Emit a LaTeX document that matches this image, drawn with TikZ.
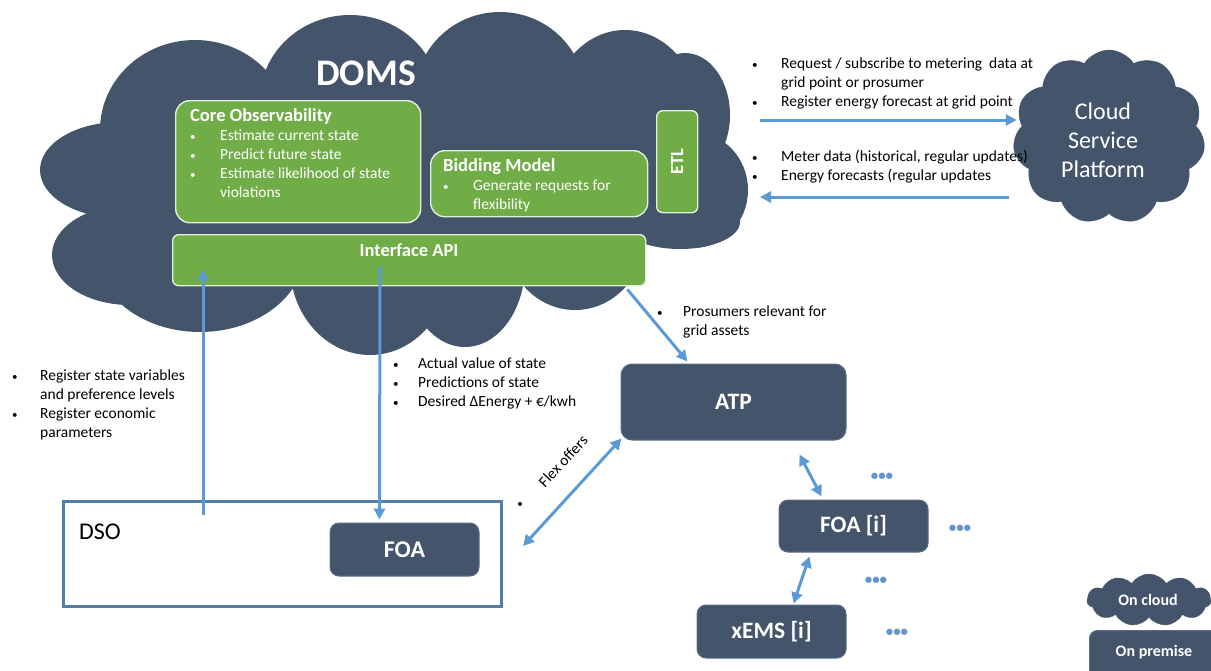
\documentclass[tikz,border=0pt]{standalone}
\usepackage{fontspec}
\setmainfont{Carlito}
\usetikzlibrary{shapes.symbols,arrows.meta,calc}
\definecolor{slate}{HTML}{44546A}
\definecolor{slateline}{RGB}{88,108,138}
\definecolor{leaf}{HTML}{70AD47}
\definecolor{leafline}{HTML}{E2EFDA}
\definecolor{sky}{HTML}{5B9BD5}
\definecolor{dsoblue}{RGB}{84,126,168}
\definecolor{dotblue}{RGB}{100,150,205}
\newcommand{\fsz}[2]{\fontsize{#1}{#2}\selectfont}
\newcommand{\hd}[1]{\multicolumn{2}{@{}l@{}}{\fsz{18.5}{19}\bfseries #1}}
\newcommand{\bu}{{\fsz{11}{19}\textbullet}}
\begin{document}
\begin{tikzpicture}[x=1pt,y=-1pt,
  txt/.style={inner sep=0pt, anchor=north west, align=left, text=black, font=\fsz{15.5}{19}},
  wtxt/.style={txt, text=white},
  greenbox/.style={draw=leafline, line width=1.4pt, fill=leaf, rounded corners=14pt, anchor=north west, inner sep=0pt},
  darkbox/.style={draw=slateline, line width=1pt, fill=slate, rounded corners=11pt, inner sep=0pt, text=white, font=\fsz{23.5}{27}\bfseries},
  arr/.style={draw=sky, line width=3pt, -{Triangle[length=11pt,width=11pt]}},
  darr/.style={draw=sky, line width=3pt, {Triangle[length=11pt,width=11pt]}-{Triangle[length=11pt,width=11pt]}},
  dots/.style={inner sep=0pt, text=dotblue, font=\fsz{15}{16}\bfseries},
  puffy/.style={cloud, cloud puffs=11, cloud puff arc=115, fill=slate, draw=slate, inner sep=0pt}
]
\useasboundingbox (0,0) rectangle (1211,670);
\clip (0,0) rectangle (1211,670);

% main DOMS cloud
\fill[slate] (150,100) rectangle (640,285);
\foreach \cx/\cy/\rx/\ry in {195/130/95/90, 350/100/90/85, 500/95/85/83, 625/118/75/88,
  685/115/45/62, 693/190/55/58, 120/170/80/48, 130/255/78/50, 200/250/105/82,
  370/265/80/90, 465/265/60/82, 575/235/70/75, 680/222/60/27}
  \fill[slate] (\cx,\cy) ellipse [x radius=\rx pt, y radius=\ry pt];

\node[inner sep=0pt, text=white, font=\fsz{37.5}{40}\bfseries] (doms) at (366,73) {DOMS};

% green boxes
\node[greenbox, minimum width=245pt, minimum height=122pt] (core) at (175,100) {};
\node[wtxt] (coretxt) at (190,107.5) {\begin{tabular}{@{}p{30pt}@{}l@{}}
  \hd{Core Observability}\\
  \bu & Estimate current state\\
  \bu & Predict future state\\
  \bu & Estimate likelihood of state\\
  & violations\end{tabular}};
\node[greenbox, minimum width=217pt, minimum height=66pt] (bid) at (430,150) {};
\node[wtxt] (bidtxt) at (443,157.5) {\begin{tabular}{@{}p{30pt}@{}l@{}}
  \hd{Bidding Model}\\
  \bu & Generate requests for\\
  & flexibility\end{tabular}};
\node[greenbox, minimum width=41pt, minimum height=102pt, rounded corners=6pt] (etl) at (656,110) {};
\node[inner sep=0pt, text=white, font=\fsz{18.5}{20}\bfseries, rotate=90] (etltxt) at (etl.center) {ETL};
\node[greenbox, minimum width=473pt, minimum height=51pt, rounded corners=6pt] (api) at (172,234) {};
\node[inner sep=0pt, text=white, font=\fsz{18.5}{20}\bfseries] (apitxt) at (409,250) {Interface API};

% Cloud service platform
\node[puffy, minimum width=192pt, minimum height=174pt, aspect=1.1] (csp) at (1109,137) {};
\node[inner sep=0pt, align=center, text=white, font=\fsz{24}{29}] (csptxt) at (1103,140) {Cloud\\Service\\Platform};

% dark boxes
\node[darkbox, minimum width=225pt, minimum height=76pt] (atp) at (733.5,402) {ATP};
\node[darkbox, minimum width=149pt, minimum height=52pt, rounded corners=9pt] (foai) at (853.5,526) {FOA [i]};
\node[darkbox, minimum width=149pt, minimum height=53pt, rounded corners=9pt] (xems) at (771.5,631.5) {xEMS [i]};
\node[draw=dsoblue, line width=3pt, minimum width=438pt, minimum height=105pt, inner sep=0pt, anchor=north west] (dso) at (62,500) {};
\node[inner sep=0pt, anchor=west, font=\fsz{24}{26}] (dsotxt) at (79,532) {DSO};
\node[darkbox, minimum width=149pt, minimum height=53pt, rounded corners=9pt, font=\fsz{24}{27}\bfseries] (foa) at (404.5,549.5) {FOA};

% legend
\node[puffy, minimum width=124pt, minimum height=52pt, aspect=2.4] (lcloud) at (1149,600) {};
\node[inner sep=0pt, text=white, font=\fsz{16}{18}\bfseries] (lcloudtxt) at (1148,600) {On cloud};
\node[darkbox, anchor=north west, minimum width=140pt, minimum height=60pt, rounded corners=8pt] (prem) at (1089,630) {};
\node[inner sep=0pt, text=white, font=\fsz{16}{18}\bfseries] (premtxt) at (1154,652) {On premise};

% dots
\node[dots] (d1) at (882,477) {•••};
\node[dots] (d2) at (960,529) {•••};
\node[dots] (d3) at (876,581) {•••};
\node[dots] (d4) at (897,633) {•••};

% text lists
\node[txt] (req) at (752,55) {\begin{tabular}{@{}p{29pt}@{}l@{}}
  \bu & Request / subscribe to metering\ \ data at\\
  & grid point or prosumer\\
  \bu & Register energy forecast at grid point\end{tabular}};
\node[txt] (met) at (752,148) {\begin{tabular}{@{}p{29pt}@{}l@{}}
  \bu & Meter data (historical, regular updates)\\
  \bu & Energy forecasts (regular updates\end{tabular}};
\node[txt] (pros) at (657,303) {\begin{tabular}{@{}p{26pt}@{}l@{}}
  \bu & Prosumers relevant for\\
  & grid assets\end{tabular}};
\node[txt] (act) at (393,355) {\begin{tabular}{@{}p{25pt}@{}l@{}}
  \bu & Actual value of state\\
  \bu & Predictions of state\\
  \bu & Desired ΔEnergy + €/kwh\end{tabular}};
\node[txt] (reg) at (12,367) {\begin{tabular}{@{}p{28pt}@{}l@{}}
  \bu & Register state variables\\
  & and preference levels\\
  \bu & Register economic\\
  & parameters\end{tabular}};
\node[inner sep=0pt, font=\fsz{11}{19}] (lone) at (520,505) {\textbullet};
\node[inner sep=0pt, font=\fsz{15.5}{18}, rotate=47] (flex) at (563,461) {Flex offers};

% connectors
\draw[arr] ($(dso.north west)+(141,15)$) -- ($(api.south west)+(31,-17)$);
\draw[arr] ($(api.south west)+(208,-20)$) -- ($(foa.north west)+(50,-3)$);
\draw[arr] ($(api.south east)+(-19,3)$) -- ($(atp.north west)+(67,-2)$);
\draw[darr] ($(dso.north east)+(20,46)$) -- ($(atp.south west)+(1,-2)$);
\draw[darr] ($(atp.south east)+(-47,14)$) -- ($(foai.north west)+(43,-3)$);
\draw[darr] ($(foai.south west)+(31,4)$) -- ($(xems.north west)+(97,-1)$);
\coordinate (r1) at (760,120);
\coordinate (l1) at (760,197);
\draw[arr] (r1) -- ($(r1 -| csp.west)+(2,0)$);
\draw[arr] ($(l1 -| csp.west)+(-6,0)$) -- (l1);
\end{tikzpicture}
\end{document}
